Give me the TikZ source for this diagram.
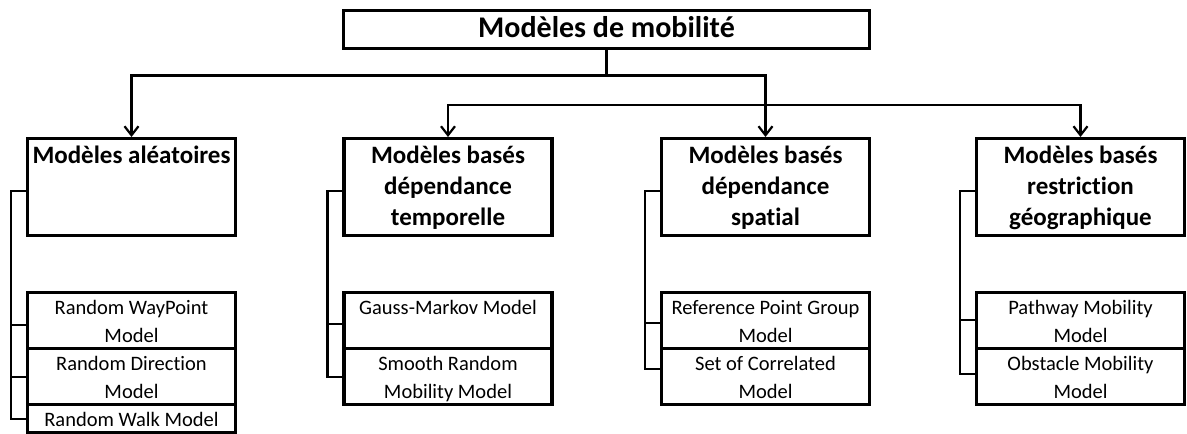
\documentclass[tikz,border=0pt]{standalone}
\usepackage{fontspec}
\setmainfont{Carlito}[Ligatures=NoCommon]
\usetikzlibrary{arrows.meta}
\newcommand{\cattxt}[1]{\parbox[c][97pt][t]{205pt}{\centering\fontsize{25}{31}\selectfont\bfseries\vspace*{3.5pt}\strut#1}}
\newcommand{\subtxt}[2]{\parbox[c][#1][t]{205pt}{\centering\fontsize{20.5}{28}\selectfont\vspace*{2pt}\strut#2}}
\tikzset{
  titlebox/.style={draw, line width=3.3pt, minimum width=526pt, minimum height=38pt, inner sep=0pt,
    font=\fontsize{30}{36}\selectfont\bfseries, text height=21pt, text depth=5pt},
  catbox/.style={draw, line width=3.3pt, minimum width=208pt, inner sep=0pt, anchor=north},
  subbox/.style={draw, line width=3.2pt, minimum width=208pt, inner sep=0pt, anchor=north},
  arr/.style={line width=2.2pt, -{Straight Barb[length=9pt,width=14pt]}},
  conn/.style={line width=2.2pt}
}
\begin{document}
\begin{tikzpicture}[x=1pt,y=-1pt]
\useasboundingbox (0,0) rectangle (1187,434);
% title
\node[titlebox] (title) at (606.5,29.5) {Modèles de mobilité};
% categories
\node[catbox] (cat1) at (131.5,137) {\cattxt{Modèles aléatoires}};
\node[catbox] (cat2) at (448,137) {\cattxt{Modèles basés\\dépendance\\temporelle}};
\node[catbox] (cat3) at (765.5,137) {\cattxt{Modèles basés\\dépendance\\spatial}};
\node[catbox] (cat4) at (1080.5,137) {\cattxt{Modèles basés\\restriction\\géographique}};
% sub models
\node[subbox] (s11) at (131.5,291) {\subtxt{56pt}{Random WayPoint\\Model}};
\node[subbox] (s12) at (131.5,347) {\subtxt{56pt}{Random Direction\\Model}};
\node[subbox] (s13) at (131.5,403) {\subtxt{28pt}{Random Walk Model}};
\node[subbox] (s21) at (448,291) {\subtxt{56pt}{Gauss-Markov Model}};
\node[subbox] (s22) at (448,347) {\subtxt{56pt}{Smooth Random\\Mobility Model}};
\node[subbox] (s31) at (765.5,291) {\subtxt{56pt}{Reference Point Group\\Model}};
\node[subbox] (s32) at (765.5,347) {\subtxt{56pt}{Set of Correlated\\Model}};
\node[subbox] (s41) at (1080.5,291) {\subtxt{56pt}{Pathway Mobility\\Model}};
\node[subbox] (s42) at (1080.5,347) {\subtxt{56pt}{Obstacle Mobility\\Model}};
% top connectors
\coordinate (j1) at (606.5,75.5);
\coordinate (j2) at (606.5,105);
\draw[conn] (title.south) -- (j1);
\draw[arr] (j1) -| (cat1.north);
\draw[arr] (j1) -| (cat3.north);
\draw[arr] (j2) -| (cat2.north);
\draw[arr] (j2) -| (cat4.north);
% sub-tree connectors
\draw[conn] ([yshift=-4pt]cat1.west) -| ([xshift=-15pt]s13.west) -- (s13.west);
\draw[conn] ([xshift=-15pt,yshift=-4pt]s11.west) -- ([yshift=-4pt]s11.west);
\draw[conn] ([xshift=-15pt]s12.west) -- (s12.west);
\draw[conn] ([yshift=-4pt]cat2.west) -| ([xshift=-15pt]s22.west) -- (s22.west);
\draw[conn] ([xshift=-15pt,yshift=-3pt]s21.west) -- ([yshift=-3pt]s21.west);
\draw[conn] ([yshift=-4pt]cat3.west) -| ([xshift=-15pt,yshift=8pt]s32.west) -- ([yshift=8pt]s32.west);
\draw[conn] ([xshift=-15pt,yshift=-2pt]s31.west) -- ([yshift=-2pt]s31.west);
\draw[conn] ([yshift=-4pt]cat4.west) -| ([xshift=-15pt,yshift=3pt]s42.west) -- ([yshift=3pt]s42.west);
\draw[conn] ([xshift=-15pt,yshift=1pt]s41.west) -- ([yshift=1pt]s41.west);
\end{tikzpicture}
\end{document}
